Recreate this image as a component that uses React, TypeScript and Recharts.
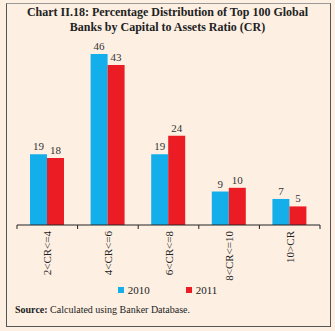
import { BarChart, Bar, XAxis, YAxis, LabelList, Legend } from "recharts";

const categories = ["2<CR<=4", "4<CR<=6", "6<CR<=8", "8<CR<=10", "10>CR"];
const share2010 = [19, 46, 19, 9, 7];
const share2011 = [18, 43, 24, 10, 5];

const data = categories.map((cr, i) => ({ cr, y2010: share2010[i], y2011: share2011[i] }));

const W = 335;
const H = 331;
const ML = 17;
const MR = 15;
const BAND = (W - ML - MR) / categories.length;
const SERIF = "'Liberation Serif', 'DejaVu Serif', serif";

function CatTick(props: any) {
  const { x, y, payload, index } = props;
  const last = index === categories.length - 1;
  return (
    <g>
      <line x1={x - BAND / 2} x2={x - BAND / 2} y1={y - 8} y2={y - 4} stroke="#222" />
      {last && <line x1={x + BAND / 2} x2={x + BAND / 2} y1={y - 8} y2={y - 4} stroke="#222" />}
      <text
        x={x + 4}
        y={y - 2}
        transform={`rotate(-90 ${x + 4} ${y - 2})`}
        textAnchor="end"
        fontSize={11}
        fontFamily={SERIF}
        fill="#222"
      >
        {payload.value}
      </text>
    </g>
  );
}

function LegendBox() {
  const items = [
    { label: "2010", color: "#14aeea" },
    { label: "2011", color: "#ec1c24" },
  ];
  return (
    <div style={{ display: "flex", justifyContent: "center", gap: 36, fontFamily: SERIF, fontSize: 11, color: "#222" }}>
      {items.map((it) => (
        <span key={it.label} style={{ display: "flex", alignItems: "center", gap: 4 }}>
          <span style={{ width: 6, height: 6, background: it.color, display: "inline-block" }} />
          {it.label}
        </span>
      ))}
    </div>
  );
}

export default function App() {
  return (
    <div style={{ position: "absolute", left: 0, top: 0, width: W, height: H, background: "#fdf0e3" }}>
      <div
        style={{
          position: "absolute",
          left: 6,
          top: 3,
          width: 323,
          height: 322,
          border: "1px solid #555",
          borderTop: "1px solid #999",
        }}
      />
      <div
        style={{
          position: "absolute",
          left: 0,
          top: 5,
          width: W,
          textAlign: "center",
          fontFamily: SERIF,
          fontWeight: "bold",
          fontSize: 12,
          lineHeight: "15px",
          color: "#222",
        }}
      >
        Chart II.18: Percentage Distribution of Top 100 Global
        <br />
        Banks by Capital to Assets Ratio (CR)
      </div>
      <div style={{ position: "absolute", left: 0, top: 0 }}>
        <BarChart width={W} height={312} data={data} margin={{ top: 39, right: MR, left: ML, bottom: 0 }} barGap={0} barSize={17}>
          <XAxis
            dataKey="cr"
            height={75}
            interval={0}
            tickLine={false}
            axisLine={{ stroke: "#222" }}
            tick={<CatTick />}
          />
          <YAxis hide domain={[0, 50]} />
          <Legend
            content={<LegendBox />}
            wrapperStyle={{ position: "absolute", top: 284, left: 0, width: W, height: 12 }}
          />
          <Bar dataKey="y2010" fill="#14aeea" isAnimationActive={false}>
            <LabelList dataKey="y2010" position="top" fontSize={11} fontFamily={SERIF} fill="#333" offset={4} />
          </Bar>
          <Bar dataKey="y2011" fill="#ec1c24" isAnimationActive={false}>
            <LabelList dataKey="y2011" position="top" fontSize={11} fontFamily={SERIF} fill="#333" offset={4} />
          </Bar>
        </BarChart>
      </div>
      <div style={{ position: "absolute", left: 15, top: 304, fontFamily: SERIF, fontSize: 10, color: "#222" }}>
        <b>Source:</b> Calculated using Banker Database.
      </div>
    </div>
  );
}
